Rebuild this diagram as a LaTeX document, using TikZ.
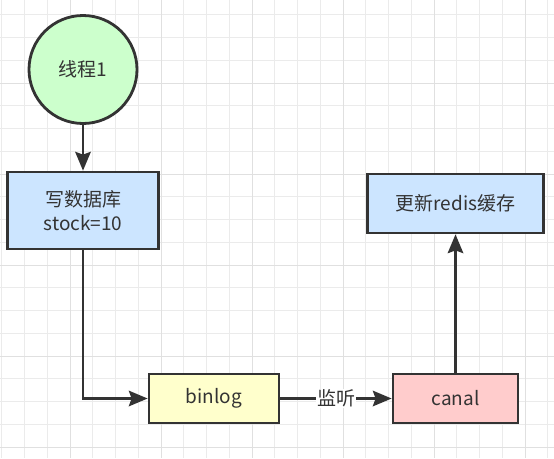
\documentclass[tikz,border=0pt]{standalone}
\usepackage{fontspec}
\usepackage{xcolor}
\newfontfamily\cjk{Noto Sans CJK SC}
\usetikzlibrary{arrows.meta}
\definecolor{linegray}{HTML}{333333}
\definecolor{greenfill}{HTML}{CCFFCC}
\definecolor{bluefill}{HTML}{CCE5FF}
\definecolor{yellowfill}{HTML}{FFFFCC}
\definecolor{redfill}{HTML}{FFCCCC}

\begin{document}
\begin{tikzpicture}[x=1pt,y=-1pt,
		gridminor/.style={draw=black!8,line width=1pt},
		gridmajor/.style={draw=black!12,line width=1pt},
		proc/.style={draw=linegray,line width=2.8pt,rectangle,text=linegray,
			font=\cjk\fontsize{19}{24}\selectfont,align=center,inner sep=0pt},
		flow/.style={draw=linegray,line width=2.8pt,
			-{Stealth[length=19pt,width=16pt,inset=3pt,line width=0pt]}}]
				\useasboundingbox (0,0) rectangle (554,458);
				\fill[white] (0,0) rectangle (554,458);

				% grid
				\foreach \i in {0,...,24}
					\draw[gridminor] ({1.75+22.75*\i},0) -- ({1.75+22.75*\i},458);
				\foreach \j in {0,...,19}
					\draw[gridminor] (0,{14.75+22.75*\j}) -- (554,{14.75+22.75*\j});
				\foreach \i in {0,...,5}
					\draw[gridmajor] ({70+91*\i},0) -- ({70+91*\i},458);
				\foreach \j in {0,...,4}
					\draw[gridmajor] (0,{83+91*\j}) -- (554,{83+91*\j});

				% nodes
				\node[proc,circle,fill=greenfill,minimum size=108pt] (thread) at (83,69.5) {线程1};
				\node[proc,fill=bluefill,minimum width=151pt,minimum height=77pt] (writedb) at (83,210.5) {写数据库\\stock=10};
				\node[proc,fill=yellowfill,minimum width=130pt,minimum height=49pt] (binlog) at (214,398.5) {binlog};
				\node[proc,fill=redfill,minimum width=125pt,minimum height=49pt] (canal) at (455.5,398.5) {canal};
				\node[proc,fill=bluefill,minimum width=176pt,minimum height=59pt] (redis) at (455.5,203.5) {更新redis缓存};

				% connectors
				\draw[flow] (thread) -- (writedb);
				\draw[flow] (writedb.south) |- (binlog.west);
				\draw[flow] (binlog) -- (canal)
					node[midway,fill=white,inner sep=1pt,text=linegray,font=\cjk\fontsize{19}{24}\selectfont]{监听};
				\draw[flow] (canal) -- (redis);
			\end{tikzpicture}
\end{document}
